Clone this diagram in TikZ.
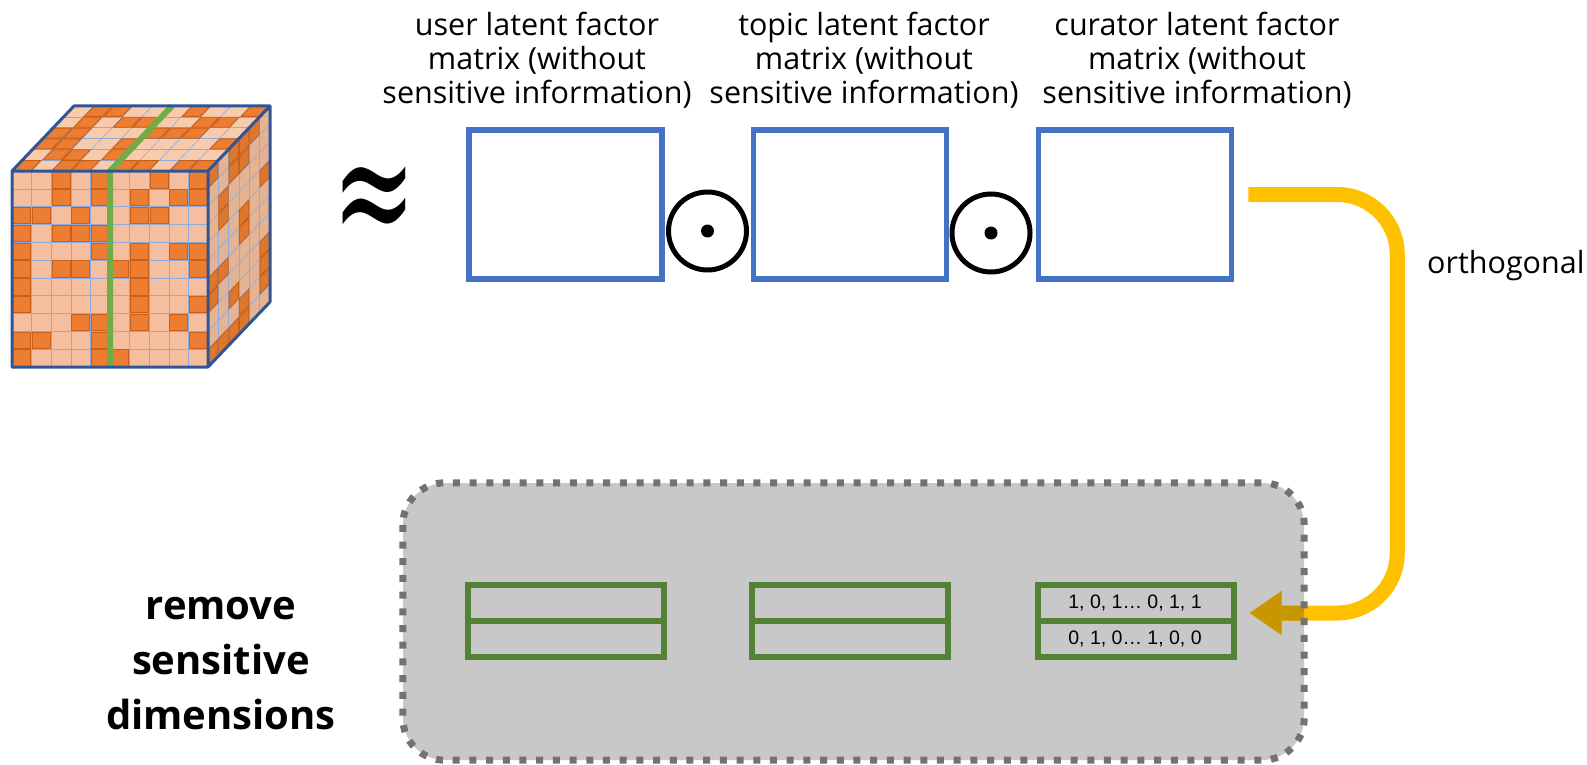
\documentclass[tikz,border=0pt]{standalone}
\usepackage{graphicx}
\usepackage{fontspec}
\setmainfont{Open Sans}
\newfontfamily\digitfont{Liberation Sans}
\newfontfamily\symfont{DejaVu Serif}
\usetikzlibrary{arrows.meta,calc}
\definecolor{boxBlue}{HTML}{4472C4}
\definecolor{boxGreen}{HTML}{548235}
\definecolor{lineGreen}{HTML}{70AD47}
\definecolor{arrowYellow}{HTML}{FFC000}
\definecolor{arrowDark}{HTML}{C89600}
\definecolor{boxGray}{HTML}{C8C8C8}
\definecolor{dotGray}{HTML}{767171}
\definecolor{cubeBlue}{HTML}{2F5597}
\definecolor{gridBlue}{HTML}{8FAADC}
\definecolor{cellEdge}{HTML}{C8601C}
\definecolor{frontLight}{HTML}{F5BE9F}
\definecolor{frontDark}{HTML}{ED7D31}
\definecolor{topLight}{HTML}{F8CBAD}
\definecolor{topDark}{HTML}{ED7D31}
\definecolor{sideLight}{HTML}{E3B394}
\definecolor{sideDark}{HTML}{DE772E}
\newcommand{\cubeface}[4]{%
  \fill[#3] (0,0) -- (#1,0) -- (#1,#2) -- (0,#2) -- cycle;
  \foreach \i in {0,...,#1}{\draw[gridline] (\i,0) -- (\i,#2);}
  \foreach \j in {0,...,#2}{\draw[gridline] (0,\j) -- (#1,\j);}
  \foreach \i in {1,...,#1}{\foreach \j in {1,...,#2}{%
    \pgfmathtruncatemacro{\dk}{rnd<0.4?1:0}%
    \ifnum\dk=1
      \filldraw[fill=#4,draw=cellEdge,line width=0.9pt,line join=miter]
        (\i-0.96,\j-0.96) -- (\i-0.04,\j-0.96) -- (\i-0.04,\j-0.04) -- (\i-0.96,\j-0.04) -- cycle;
    \fi}}%
}
\begin{document}
\begin{tikzpicture}[x=1pt,y=-1pt,
  gridline/.style={draw=gridBlue,line width=0.6pt},
  bluebox/.style={draw=boxBlue,line width=5.5pt,minimum width=193pt,minimum height=149pt,inner sep=0pt},
  odot/.style={circle,draw=black,line width=5pt,minimum size=78pt,inner sep=0pt},
  toplabel/.style={align=center,inner sep=0pt,font=\fontsize{30.5}{34}\selectfont},
  greenbox/.style={draw=boxGreen,line width=5.5pt,minimum width=196pt,minimum height=72pt,inner sep=0pt},
  greenline/.style={draw=boxGreen,line width=5.5pt},
  digits/.style={inner sep=0pt,font=\digitfont\fontsize{19.5}{21}\selectfont},
  yel/.style={line width=15pt,rounded corners=60pt,-{Triangle[length=32pt,width=44pt,line width=0.1pt]}},
  dotborder/.style={draw=dotGray,line width=7pt,dash pattern=on 7pt off 9.7pt,rounded corners=42pt},
  ]
\useasboundingbox (0,0) rectangle (1587,765);
\pgfmathsetseed{4242}
% ---- cube ----
\begin{scope}[shift={(12,171)},x={(19.6pt,0pt)},y={(10.33pt,10.83pt)}]
  \cubeface{10}{6}{topLight}{topDark}
\end{scope}
\begin{scope}[shift={(208,171)},x={(10.33pt,10.83pt)},y={(0pt,-17.82pt)}]
  \cubeface{6}{11}{sideLight}{sideDark}
\end{scope}
\begin{scope}[shift={(12,171)},x={(19.6pt,0pt)},y={(0pt,-17.82pt)}]
  \cubeface{10}{11}{frontLight}{frontDark}
\end{scope}
\draw[lineGreen,line width=6pt] (172,106) -- (110,171) -- (110,367);
\draw[cubeBlue,line width=3pt,line join=round] (12,171) rectangle (208,367)
  (12,171) -- (74,106) -- (270,106) -- (208,171)
  (270,106) -- (270,302) -- (208,367);
% ---- approx ----
\node[inner sep=0pt] (ap) at (374,207) {\scalebox{1}[1.65]{\symfont\fontsize{100}{100}\selectfont ≈}};
% ---- factor matrices ----
\node[bluebox] (u) at (565.5,204.5) {};
\node[bluebox] (t) at (850,204.5) {};
\node[bluebox] (c) at (1135,204.5) {};
\node[odot] (o1) at (707.5,231) {};
\fill (o1.center) circle (6.5pt);
\node[odot] (o2) at (991,233) {};
\fill (o2.center) circle (6.5pt);
\node[toplabel,anchor=north] (lu) at (537,12) {user latent factor\\matrix (without\\sensitive information)};
\node[toplabel,anchor=north] (lt) at (864,12) {topic latent factor\\matrix (without\\sensitive information)};
\node[toplabel,anchor=north] (lc) at (1197,12) {curator latent factor\\matrix (without\\sensitive information)};
\node[toplabel,anchor=base west] (orth) at (1427,273) {orthogonal};
% ---- gray region ----
\node[fill=boxGray,minimum width=901pt,minimum height=277pt,rounded corners=42pt,inner sep=0pt] (gb) at (853.5,621.5) {};
\node[greenbox] (g1) at (566,621) {};
\draw[greenline] (g1.west) -- (g1.east);
\node[greenbox] (g2) at (850,621) {};
\draw[greenline] (g2.west) -- (g2.east);
\node[greenbox] (g3) at (1136,621) {};
\draw[greenline] (g3.west) -- (g3.east);
\node[digits] (r1) at (1135,603) {1, 0, 1… 0, 1, 1};
\node[digits] (r2) at (1135,639) {0, 1, 0… 1, 0, 0};
% ---- arrow ----
\coordinate (ys) at ($(c.east)+(14,-10)$);
\coordinate (ye) at ($(g3.east)+(13,-8)$);
\draw[yel,draw=arrowYellow] (ys) -- ++(149,0) |- (ye);
\begin{scope}
  \clip[rounded corners=42pt] (gb.north west) rectangle (gb.south east);
  \draw[yel,draw=arrowDark] (ys) -- ++(149,0) |- (ye);
\end{scope}
\draw[dotborder] (gb.north west) rectangle (gb.south east);
\node[align=center,inner sep=0pt,font=\bfseries\fontsize{40}{55}\selectfont] (rm) at (221,664) {remove\\sensitive\\dimensions};
\end{tikzpicture}
\end{document}
